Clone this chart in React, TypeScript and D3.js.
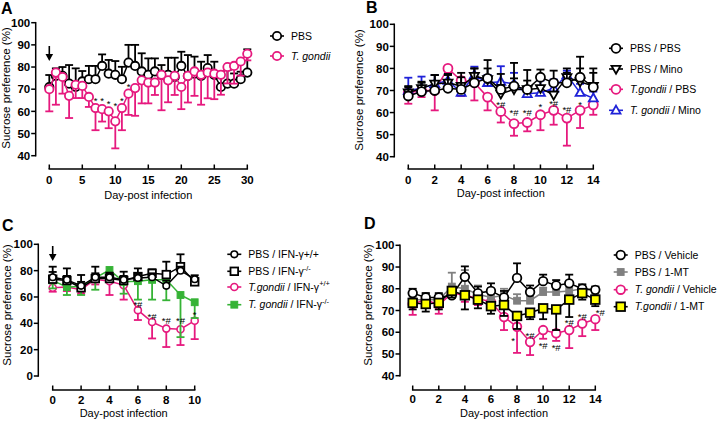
import React from 'react';
import * as d3 from 'd3';

const FONT = "'Liberation Sans', Arial, sans-serif";
const PINK = '#e6197e';
const BLUE = '#1f22d8';
const GREEN = '#36b336';
const GREY = '#808080';
const YELLOW = '#ffff00';
const BLACK = '#000000';

// ---------- Panel A (days 0..30) ----------
const A_DAY_TICKS = [0, 5, 10, 15, 20, 25, 30];
const A_PCT_TICKS = [40, 50, 60, 70, 80, 90, 100];
const A_PBS = [71, 76, 76, 72.5, 71, 73.5, 74.5, 74.5, 80.5, 77, 76.5, 74.5, 82, 80.5, 78, 76.5, 78, 76.5, 76.5, 75.5, 80.5, 76, 77, 76, 79.5, 76.5, 71, 72.5, 72.5, 74.5, 77.5];
const A_PBS_ERR = [5.4, 3.4, 4, 8.4, 8.4, 4.7, 6, 6, 5.2, 6.2, 6.2, 5.6, 8, 9.5, 8.2, 7.4, 5.9, 4.4, 7.7, 8.7, 6.4, 9.4, 7.7, 6.4, 5.9, 5.9, 6.9, 6.1, 4.6, 3.4, 10.5];
const A_TG = [70, 77.5, 75.5, 67, 72, 71.5, 66.5, 61.5, 61, 60, 55.5, 61.5, 68, 70.5, 74, 73, 73, 76.5, 74, 76, 71, 76, 78, 76.5, 77.5, 77, 76.5, 80, 80.5, 82.5, 86];
const A_TG_ERR = [10, 14.5, 7.5, 10, 6, 5.5, 4.5, 10, 5.6, 7.6, 12.2, 10, 9.6, 12.5, 10.4, 9.4, 5.6, 16, 9.9, 8.6, 10, 12, 11, 13.5, 11.6, 11.5, 9, 7.4, 8, 6.4, 3];
const A_STAR_DAYS = [7, 8, 9, 10, 11, 12];
const A_STAR_VALS = [65.5, 65.5, 64, 63, 65.5, 72];
const A_STAR_TXT = ['*', '*', '*', '*', '*', '*'];

// ---------- Panel B (days 0..14) ----------
const B_DAY_TICKS = [0, 2, 4, 6, 8, 10, 12, 14];
const B_PCT_TICKS = [40, 50, 60, 70, 80, 90, 100];
const B_PBS_PBS = [67.5, 69.5, 70, 71, 70.5, 73.5, 75.5, 70.5, 72, 70.5, 76, 73.5, 73.5, 76, 71.5];
const B_PBS_PBS_ERR = [4, 4, 7, 6, 7.5, 6.5, 8.3, 7, 10.5, 8.8, 3.5, 5.5, 6.5, 9.3, 8.5];
const B_PBS_MINO = [69, 71, 73, 73.5, 72, 76.5, 75, 68.5, 70.5, 70.5, 71, 68, 76, 74, 72];
const B_PBS_MINO_ERR = [3, 3, 4, 4, 4, 3.5, 5, 4, 5, 4, 4, 5, 2, 6, 6];
const B_TG_PBS = [69, 70, 70, 80, 74.5, 73.5, 67, 60.5, 55, 55.5, 59, 61, 57.5, 61, 63.5];
const B_TG_PBS_ERR = [5, 3, 9, 2, 7, 8, 6, 5, 5.5, 4, 7, 6.5, 12.5, 8, 4.5];
const B_TG_MINO = [70, 71, 73, 74.5, 69, 77, 73.5, 74, 73, 68.5, 69, 71, 77, 69, 66.5];
const B_TG_MINO_ERR = [5.8, 5.3, 4, 3, 4, 3.8, 3.5, 7, 5, 3, 5.5, 4, 2, 4, 3];
const B_STAR_DAYS = [7, 8, 9, 10, 11, 12, 13];
const B_STAR_VALS = [64.2, 60.7, 60.7, 63.2, 64.7, 62, 64.2];
const B_STAR_TXT = ['*#', '*#', '*#', '*', '*#', '*#', '*'];

// ---------- Panel C (days 0..10) ----------
const C_DAY_TICKS = [0, 2, 4, 6, 8, 10];
const C_PCT_TICKS = [0, 20, 40, 60, 80, 100];
const C_PBS_WT = [75, 73, 68.5, 75, 75, 73, 74.5, 75, 68.5, 80, 73.5];
const C_PBS_WT_ERR = [4, 3, 3, 3, 3, 3, 3, 3, 4, 3, 3];
const C_PBS_KO = [73.5, 72.5, 67, 74, 74, 72.5, 75.5, 78, 77, 83, 71.5];
const C_PBS_KO_ERR = [9.5, 9.2, 9.7, 9, 4.5, 6.7, 6.2, 3, 9.8, 9.4, 3];
const C_TG_WT = [67, 67.5, 65.5, 73.5, 72, 69, 50, 41, 36, 35.5, 42];
const C_TG_WT_ERR = [3, 3, 3, 4, 10.5, 11, 7.5, 12.5, 14, 12, 14];
const C_TG_KO = [72.5, 67.5, 68, 74.5, 80.5, 71.5, 72, 73, 73, 61.5, 56];
const C_TG_KO_ERR = [6, 6, 6.5, 9, 7, 9, 14, 15, 15.5, 32, 12];
const C_STAR_DAYS = [6, 7, 8, 9, 10];
const C_STAR_VALS = [55.5, 46.5, 43, 43, 47.5];
const C_STAR_TXT = ['*#', '*#', '*#', '*#', '*'];

// ---------- Panel D (days 0..14) ----------
const D_DAY_TICKS = [0, 2, 4, 6, 8, 10, 12, 14];
const D_PCT_TICKS = [40, 50, 60, 70, 80, 90, 100];
const D_PBS_VEH = [78, 76, 76, 77, 85.5, 78, 79, 76, 85, 78.5, 83.5, 81.5, 82.5, 80, 79.5];
const D_PBS_VEH_ERR = [2, 2, 2, 3, 4.8, 3, 3.5, 3, 6.7, 3, 3, 2.5, 4, 2, 1.5];
const D_PBS_MT = [75, 75, 75, 81, 80, 77.5, 76, 77, 74.5, 74.5, 78.5, 78.5, 79, 80, 79];
const D_PBS_MT_ERR = [2, 3, 2, 6.4, 8.6, 4, 3, 3, 3, 2, 2, 2, 3, 2, 2];
const D_TG_VEH = [73, 75, 72.5, 78, 77, 75.5, 74, 67, 62.5, 55.5, 61, 59.5, 61, 64, 66];
const D_TG_VEH_ERR = [5, 3, 4, 2, 3, 3, 3, 6, 12, 6, 4, 3.5, 8.3, 5.8, 5];
const D_TG_MT = [73.5, 73, 73.5, 79, 77, 75, 72, 72.5, 67.5, 69, 71, 70.5, 75, 78, 75];
const D_TG_MT_ERR = [3, 3.5, 3, 3, 6.5, 4, 3.5, 5, 6, 3, 5, 9.5, 8, 3, 3];
const D_STAR_DAYS = [8, 9, 10, 11, 12, 13, 14];
const D_STAR_VALS = [57, 59.2, 54.5, 53.7, 65, 68, 69.5];
const D_STAR_TXT = ['*', '*#', '*#', '*#', '*#', '*#', '*#'];
const D_STAR_DX = [-4, 0, 0, 0, 0, 0, 5];

type MarkerType = 'circle' | 'square' | 'triUp' | 'triDown';
interface Series {
  mean: number[];
  err: number[];
  dir: number;
  stroke: string;
  fill: string;
  line: string;
  marker: MarkerType;
  size: number;
  sw: number;
  errColor?: string;
}

function Marker({ type, x, y, size, stroke, fill, sw }: { type: MarkerType; x: number; y: number; size: number; stroke: string; fill: string; sw: number }) {
  if (type === 'circle') return <circle cx={x} cy={y} r={size} fill={fill} stroke={stroke} strokeWidth={sw} />;
  if (type === 'square') return <rect x={x - size} y={y - size} width={size * 2} height={size * 2} fill={fill} stroke={stroke} strokeWidth={sw} />;
  const s = size;
  if (type === 'triUp') {
    const p = `M${x},${y - s * 1.1}L${x + s * 1.05},${y + s * 0.75}L${x - s * 1.05},${y + s * 0.75}Z`;
    return <path d={p} fill={fill} stroke={stroke} strokeWidth={sw} strokeLinejoin="miter" />;
  }
  const p = `M${x},${y + s * 1.1}L${x + s * 1.05},${y - s * 0.75}L${x - s * 1.05},${y - s * 0.75}Z`;
  return <path d={p} fill={fill} stroke={stroke} strokeWidth={sw} strokeLinejoin="miter" />;
}

interface LegendPart { t: string; it?: boolean; sup?: boolean }
interface LegendItem { s: Series; parts: LegendPart[] }

interface PanelProps {
  letter: string;
  letterPos: [number, number];
  xr: [number, number];
  xd: [number, number];
  xTicks: number[];
  yr: [number, number];
  yd: [number, number];
  yTicks: number[];
  yAxisX: number;
  xAxisY: number;
  tickLabelY: number;
  xLabelY: number;
  titleX: number;
  titleY: number;
  series: Series[];
  starDays: number[];
  starVals: number[];
  starTxt: string[];
  starDx?: number[];
  arrow?: [number, number];
  legendX: number;
  legendYs: number[];
  legend: LegendItem[];
}

function Panel(p: PanelProps) {
  const x = d3.scaleLinear().domain(p.xd).range(p.xr);
  const y = d3.scaleLinear().domain(p.yd).range(p.yr);
  const line = d3.line<number>().x((_, i) => x(i)).y((v) => y(v));
  const cap = 4;
  return (
    <g>
      <text x={p.letterPos[0]} y={p.letterPos[1]} fontFamily={FONT} fontWeight="bold" fontSize={16}>{p.letter}</text>
      {/* y axis */}
      <line x1={p.yAxisX} x2={p.yAxisX} y1={y(p.yd[0]) + 0.75} y2={y(p.yd[1]) - 0.75} stroke={BLACK} strokeWidth={1.5} />
      {p.yTicks.map((t) => (
        <g key={'yt' + t}>
          <line x1={p.yAxisX - 4.5} x2={p.yAxisX} y1={y(t)} y2={y(t)} stroke={BLACK} strokeWidth={1.5} />
          <text x={p.yAxisX - 5.5} y={y(t)} dy="0.36em" textAnchor="end" fontFamily={FONT} fontWeight="bold" fontSize={11.5}>{t}</text>
        </g>
      ))}
      <text transform={`translate(${p.titleX},${p.titleY}) rotate(-90)`} textAnchor="middle" fontFamily={FONT} fontSize={11.5}>Sucrose preference (%)</text>
      {/* x axis */}
      <line x1={x(p.xd[0]) - 0.75} x2={x(p.xd[1]) + 0.75} y1={p.xAxisY} y2={p.xAxisY} stroke={BLACK} strokeWidth={1.5} />
      {p.xTicks.map((t) => (
        <g key={'xt' + t}>
          <line x1={x(t)} x2={x(t)} y1={p.xAxisY - 4.5} y2={p.xAxisY} stroke={BLACK} strokeWidth={1.5} />
          <text x={x(t)} y={p.tickLabelY} textAnchor="middle" fontFamily={FONT} fontWeight="bold" fontSize={11.5}>{t}</text>
        </g>
      ))}
      <text x={(p.xr[0] + p.xr[1]) / 2} y={p.xLabelY} textAnchor="middle" fontFamily={FONT} fontSize={11}>Day-post infection</text>
      {/* series */}
      {p.series.map((s, si) => (
        <g key={'s' + si}>
          {s.mean.map((m, i) => {
            const ye = y(m + s.dir * s.err[i]);
            const c = s.errColor || s.stroke;
            return (
              <g key={'e' + i}>
                <line x1={x(i)} x2={x(i)} y1={y(m)} y2={ye} stroke={c} strokeWidth={1.8} />
                <line x1={x(i) - cap} x2={x(i) + cap} y1={ye} y2={ye} stroke={c} strokeWidth={1.8} />
              </g>
            );
          })}
          <path d={line(s.mean) || ''} fill="none" stroke={s.line} strokeWidth={1.5} />
          {s.mean.map((m, i) => (
            <Marker key={'m' + i} type={s.marker} x={x(i)} y={y(m)} size={s.size} stroke={s.stroke} fill={s.fill} sw={s.sw} />
          ))}
        </g>
      ))}
      {/* stars */}
      {p.starDays.map((d, i) => (
        <text key={'st' + i} x={x(d) + (p.starDx ? p.starDx[i] : 0)} y={y(p.starVals[i])} dy="0.5em" textAnchor="middle" fontFamily={FONT} fontSize={9.5}>{p.starTxt[i]}</text>
      ))}
      {/* arrow */}
      {p.arrow && (
        <g>
          <line x1={x(0)} x2={x(0)} y1={p.arrow[0]} y2={p.arrow[1] - 5} stroke={BLACK} strokeWidth={1.6} />
          <path d={`M${x(0) - 3.8},${p.arrow[1] - 7}L${x(0) + 3.8},${p.arrow[1] - 7}L${x(0)},${p.arrow[1]}Z`} fill={BLACK} />
        </g>
      )}
      {/* legend */}
      {p.legend.map((it, i) => {
        const ly = p.legendYs[i];
        return (
          <g key={'lg' + i}>
            <line x1={p.legendX - 7} x2={p.legendX + 7} y1={ly} y2={ly} stroke={it.s.line} strokeWidth={1.6} />
            <Marker type={it.s.marker} x={p.legendX} y={ly} size={it.s.size} stroke={it.s.stroke} fill={it.s.fill} sw={it.s.sw} />
            <text x={p.legendX + 14} y={ly} dy="0.36em" fontFamily={FONT} fontSize={10.5}>
              {it.parts.map((pt, j) =>
                pt.sup ? (
                  <tspan key={j} dy={-4.5} fontSize={7.5}>{pt.t}</tspan>
                ) : (
                  <tspan key={j} fontStyle={pt.it ? 'italic' : 'normal'}>{pt.t}</tspan>
                )
              )}
            </text>
          </g>
        );
      })}
    </g>
  );
}

export default function App() {
  const aPbs: Series = { mean: A_PBS, err: A_PBS_ERR, dir: 1, stroke: BLACK, fill: '#fff', line: BLACK, marker: 'circle', size: 4.2, sw: 1.8 };
  const aTg: Series = { mean: A_TG, err: A_TG_ERR, dir: -1, stroke: PINK, fill: '#fff', line: PINK, marker: 'circle', size: 4.2, sw: 1.8 };

  const bPP: Series = { mean: B_PBS_PBS, err: B_PBS_PBS_ERR, dir: 1, stroke: BLACK, fill: '#fff', line: BLACK, marker: 'circle', size: 4.5, sw: 1.8 };
  const bPM: Series = { mean: B_PBS_MINO, err: B_PBS_MINO_ERR, dir: 1, stroke: BLACK, fill: '#fff', line: BLACK, marker: 'triDown', size: 4.3, sw: 1.8 };
  const bTP: Series = { mean: B_TG_PBS, err: B_TG_PBS_ERR, dir: -1, stroke: PINK, fill: '#fff', line: PINK, marker: 'circle', size: 4.5, sw: 1.8 };
  const bTM: Series = { mean: B_TG_MINO, err: B_TG_MINO_ERR, dir: 1, stroke: BLUE, fill: '#fff', line: BLUE, marker: 'triUp', size: 4.3, sw: 1.8 };

  const cPW: Series = { mean: C_PBS_WT, err: C_PBS_WT_ERR, dir: 1, stroke: BLACK, fill: '#fff', line: BLACK, marker: 'circle', size: 3.3, sw: 1.6 };
  const cPK: Series = { mean: C_PBS_KO, err: C_PBS_KO_ERR, dir: 1, stroke: BLACK, fill: '#fff', line: BLACK, marker: 'square', size: 3.8, sw: 1.8 };
  const cTW: Series = { mean: C_TG_WT, err: C_TG_WT_ERR, dir: -1, stroke: PINK, fill: '#fff', line: PINK, marker: 'circle', size: 3.5, sw: 1.6 };
  const cTK: Series = { mean: C_TG_KO, err: C_TG_KO_ERR, dir: -1, stroke: GREEN, fill: GREEN, line: GREEN, marker: 'square', size: 3.4, sw: 1 };

  const dPV: Series = { mean: D_PBS_VEH, err: D_PBS_VEH_ERR, dir: 1, stroke: BLACK, fill: '#fff', line: BLACK, marker: 'circle', size: 4.3, sw: 1.8 };
  const dPM: Series = { mean: D_PBS_MT, err: D_PBS_MT_ERR, dir: 1, stroke: GREY, fill: GREY, line: GREY, marker: 'square', size: 3.4, sw: 1 };
  const dTV: Series = { mean: D_TG_VEH, err: D_TG_VEH_ERR, dir: -1, stroke: PINK, fill: '#fff', line: PINK, marker: 'circle', size: 4.3, sw: 1.8 };
  const dTM: Series = { mean: D_TG_MT, err: D_TG_MT_ERR, dir: -1, stroke: BLACK, fill: YELLOW, line: BLACK, marker: 'square', size: 4.3, sw: 1.8 };

  return (
    <svg width={720} height={422} style={{ position: 'absolute', left: 0, top: 0, background: '#fff' }}>
      <rect width={720} height={422} fill="#fff" />
      <Panel
        letter="A" letterPos={[1, 14]}
        xr={[49.3, 247.3]} xd={[0, 30]} xTicks={A_DAY_TICKS}
        yr={[155.7, 22.7]} yd={[40, 100]} yTicks={A_PCT_TICKS}
        yAxisX={35.7} xAxisY={169} tickLabelY={184} xLabelY={199}
        titleX={10} titleY={88}
        series={[aPbs, aTg]}
        starDays={A_STAR_DAYS} starVals={A_STAR_VALS} starTxt={A_STAR_TXT}
        arrow={[46, 61]}
        legendX={277} legendYs={[36, 56]}
        legend={[
          { s: aPbs, parts: [{ t: 'PBS' }] },
          { s: aTg, parts: [{ t: 'T. gondii', it: true }] },
        ]}
      />
      <Panel
        letter="B" letterPos={[366, 13]}
        xr={[408.3, 593.3]} xd={[0, 14]} xTicks={B_DAY_TICKS}
        yr={[156.7, 24.3]} yd={[40, 100]} yTicks={B_PCT_TICKS}
        yAxisX={394.3} xAxisY={169} tickLabelY={183.5} xLabelY={197}
        titleX={363} titleY={90}
        series={[bTP, bTM, bPM, bPP]}
        starDays={B_STAR_DAYS} starVals={B_STAR_VALS} starTxt={B_STAR_TXT}
        legendX={616} legendYs={[48.3, 69, 89.3, 110.3]}
        legend={[
          { s: bPP, parts: [{ t: 'PBS / PBS' }] },
          { s: bPM, parts: [{ t: 'PBS / Mino' }] },
          { s: bTP, parts: [{ t: 'T.gondii', it: true }, { t: ' / PBS' }] },
          { s: bTM, parts: [{ t: 'T. gondii', it: true }, { t: ' / Mino' }] },
        ]}
      />
      <Panel
        letter="C" letterPos={[2, 231]}
        xr={[52.7, 194.7]} xd={[0, 10]} xTicks={C_DAY_TICKS}
        yr={[376, 244.3]} yd={[0, 100]} yTicks={C_PCT_TICKS}
        yAxisX={38.3} xAxisY={390} tickLabelY={403.5} xLabelY={417}
        titleX={10.5} titleY={305}
        series={[cTW, cTK, cPK, cPW]}
        starDays={C_STAR_DAYS} starVals={C_STAR_VALS} starTxt={C_STAR_TXT}
        arrow={[246, 261]}
        legendX={234.3} legendYs={[254.3, 271.3, 287, 304.7]}
        legend={[
          { s: cPW, parts: [{ t: 'PBS / IFN-γ+/+' }] },
          { s: cPK, parts: [{ t: 'PBS / IFN-γ' }, { t: '-/-', sup: true }] },
          { s: cTW, parts: [{ t: 'T.gondii', it: true }, { t: ' / IFN-γ' }, { t: '+/+', sup: true }] },
          { s: cTK, parts: [{ t: 'T. gondii', it: true }, { t: ' / IFN-γ' }, { t: '-/-', sup: true }] },
        ]}
      />
      <Panel
        letter="D" letterPos={[364, 229]}
        xr={[412.7, 595.3]} xd={[0, 14]} xTicks={D_DAY_TICKS}
        yr={[375.7, 245.3]} yd={[40, 100]} yTicks={D_PCT_TICKS}
        yAxisX={400} xAxisY={390} tickLabelY={402.5} xLabelY={417}
        titleX={372} titleY={305}
        series={[dTV, dPM, dPV, dTM]}
        starDays={D_STAR_DAYS} starVals={D_STAR_VALS} starTxt={D_STAR_TXT} starDx={D_STAR_DX}
        legendX={620.7} legendYs={[255, 272, 289.7, 306.7]}
        legend={[
          { s: dPV, parts: [{ t: 'PBS / Vehicle' }] },
          { s: dPM, parts: [{ t: 'PBS / 1-MT' }] },
          { s: dTV, parts: [{ t: 'T. gondii', it: true }, { t: ' / Vehicle' }] },
          { s: dTM, parts: [{ t: 'T.gondii', it: true }, { t: ' / 1-MT' }] },
        ]}
      />
    </svg>
  );
}
